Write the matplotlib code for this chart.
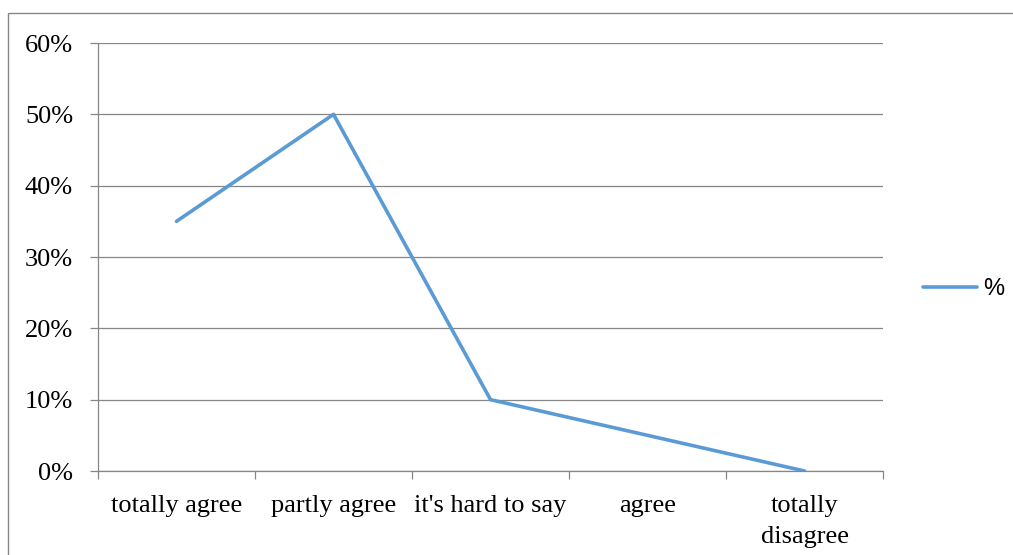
import matplotlib.pyplot as plt
from matplotlib.patches import Rectangle
from matplotlib.lines import Line2D

categories = ["totally agree", "partly agree", "it's hard to say", "agree", "totally\ndisagree"]
values = [35, 50, 10, 5, 0]
yticks = [0, 10, 20, 30, 40, 50, 60]
series_name = "%"

fig = plt.figure(figsize=(10.13, 5.55), dpi=100)
ax = fig.add_axes([98 / 1013, 1 - 471 / 555, 785 / 1013, 428 / 555])

grey = "#868686"
blue = "#5B9BD5"

x = list(range(len(categories)))
ax.plot(x, values, color=blue, linewidth=2.6, solid_capstyle="round", zorder=3)

ax.set_xlim(-0.5, len(categories) - 0.5)
ax.set_ylim(0, 60)
ax.set_yticks(yticks)
ax.set_yticklabels([f"{v}%" for v in yticks], family="Liberation Serif", fontsize=19)
ax.yaxis.grid(True, color=grey, linewidth=0.9)
ax.set_axisbelow(True)

# category boundaries carry the tick marks, labels sit at centres
ax.set_xticks([i - 0.5 for i in range(len(categories) + 1)])
ax.set_xticklabels([])
ax.set_xticks(x, minor=True)
ax.set_xticklabels(categories, minor=True, family="Liberation Serif", fontsize=19, linespacing=1.55)
ax.tick_params(axis="x", which="major", length=6, color=grey, width=0.9)
ax.tick_params(axis="x", which="minor", length=0, pad=17)
ax.tick_params(axis="y", length=6, color=grey, width=0.9, pad=12)

for side in ["top", "right"]:
    ax.spines[side].set_visible(False)
for side in ["left", "bottom"]:
    ax.spines[side].set_color(grey)
    ax.spines[side].set_linewidth(0.9)

# legend
leg_handle = Line2D([], [], color=blue, linewidth=2.6, solid_capstyle="round")
fig.legend([leg_handle], [series_name], loc="center left", bbox_to_anchor=(923 / 1013, 1 - 289 / 555),
           frameon=False, handlelength=2.3, handletextpad=0.25, borderpad=0, borderaxespad=0,
           prop={"family": "Liberation Sans", "size": 17})

# outer chart border
fig.patches.append(Rectangle((8 / 1013, -0.01), 1.02, 1 - 13 / 555 + 0.01, transform=fig.transFigure,
                             fill=False, edgecolor=grey, linewidth=1.0))

fig.savefig("out.png", dpi=100)
